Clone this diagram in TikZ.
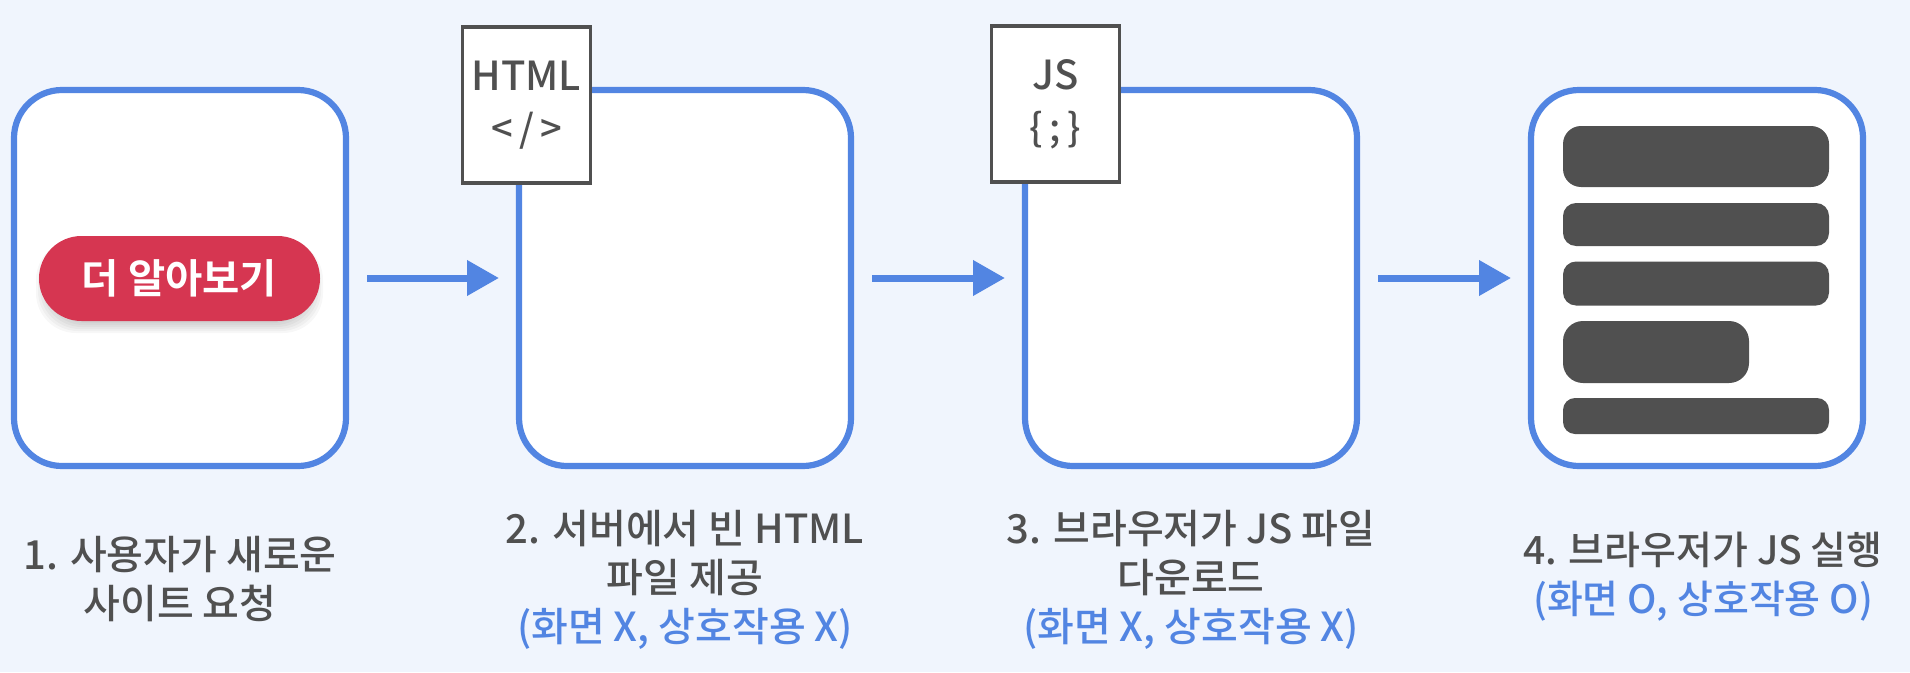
\documentclass[tikz,border=0pt]{standalone}
\usepackage{fontspec}
\setmainfont{Noto Sans CJK KR}
\newfontfamily\medf{Noto Sans CJK KR Medium}
\newfontfamily\btnf{Noto Sans CJK KR Bold}
\usetikzlibrary{arrows.meta}
\definecolor{bgc}{HTML}{F0F5FD}
\definecolor{bluec}{HTML}{5285E2}
\definecolor{grayc}{HTML}{505050}
\definecolor{redc}{HTML}{D63651}
\tikzset{
  screen/.style={draw=bluec,fill=white,line width=6.2pt,rounded corners=48pt,minimum width=332pt,minimum height=376pt,inner sep=0pt,outer sep=0pt},
  filecard/.style={draw=grayc,fill=white,line width=3.6pt,minimum width=128pt,minimum height=156pt,inner sep=0pt,outer sep=0pt,align=center,text=grayc,font=\medf\fontsize{40}{50}\selectfont},
  flow/.style={draw=bluec,line width=7pt,-{Triangle[length=32pt,width=34pt]},shorten <=21pt,shorten >=20pt},
  caption/.style={align=center,text=grayc,inner sep=0pt,font=\medf\fontsize{40}{49}\selectfont},
  bar/.style={fill=grayc,inner sep=0pt,outer sep=0pt,anchor=north west}
}
\begin{document}
\begin{tikzpicture}[x=1pt,y=-1pt]
\useasboundingbox (0,0) rectangle (1910,672);
\fill[bgc] (0,0) rectangle (1910,672);
\node[screen] (b1) at (180,278) {};
\node[screen] (b2) at (685,278) {};
\node[screen] (b3) at (1191,278) {};
\node[screen] (b4) at (1697,278) {};
\draw[flow] (b1) -- (b2);
\draw[flow] (b2) -- (b3);
\draw[flow] (b3) -- (b4);
% button shadow
\foreach \g in {10,8,6,4,2,0}{
  \fill[black,opacity=0.03,rounded corners=40pt] (46-\g,250-\g) rectangle (313+\g,323+\g);
}
\node[fill=redc,rounded corners=42.5pt,minimum width=281pt,minimum height=85pt,inner sep=0pt,text=white,font=\btnf\fontsize{40.5}{40}\selectfont] (btn) at (179.5,278.5) {더 알아보기};
\node[filecard] (html) at (526.5,105) {HTML\\[2pt]{\fontsize{38}{38}\selectfont\char`\<\,/\,\char`\>}};
\node[filecard] (js) at (1055.5,104) {JS\\[2pt]{\fontsize{38}{38}\selectfont\{\,;\,\}}};
\node[bar,rounded corners=18pt,minimum width=266pt,minimum height=61pt] (l1) at (1563,126) {};
\node[bar,rounded corners=13pt,minimum width=266pt,minimum height=43pt] (l2) at (1563,203) {};
\node[bar,rounded corners=13pt,minimum width=266pt,minimum height=44pt] (l3) at (1563,261.5) {};
\node[bar,rounded corners=20pt,minimum width=186pt,minimum height=62pt] (l4) at (1563,321) {};
\node[bar,rounded corners=12pt,minimum width=266pt,minimum height=36pt] (l5) at (1563,398) {};
\node[caption] (c1) at (180,579) {1. 사용자가 새로운\\사이트 요청};
\node[caption] (c2) at (685,579.5) {2. 서버에서 빈 HTML\\파일 제공\\\textcolor{bluec}{(화면 X, 상호작용 X)}};
\node[caption] (c3) at (1191,579.5) {3. 브라우저가 JS 파일\\다운로드\\\textcolor{bluec}{(화면 X, 상호작용 X)}};
\node[caption,font=\medf\fontsize{39}{49}\selectfont] (c4) at (1703,577) {4. 브라우저가 JS 실행\\\textcolor{bluec}{(화면 O, 상호작용 O)}};
\end{tikzpicture}
\end{document}
